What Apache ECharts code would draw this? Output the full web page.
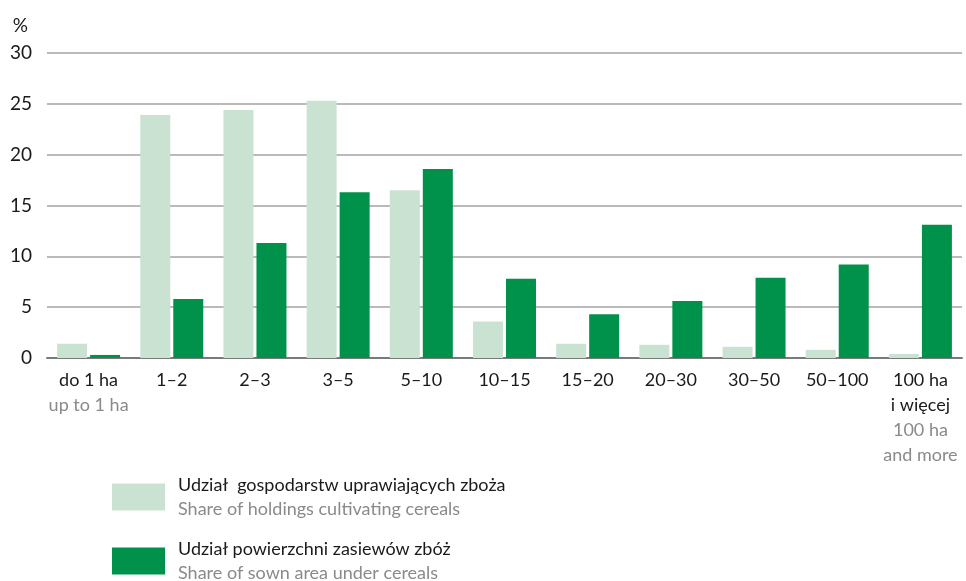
<!DOCTYPE html>
<html>
<head>
<meta charset="utf-8">
<script src="https://cdn.jsdelivr.net/npm/echarts@6/dist/echarts.min.js"></script>
<style>
  html, body { margin: 0; padding: 0; background: #fff; }
</style>
</head>
<body>
<div id="chart" style="width: 966px; height: 581px;"></div>
<script>
// kategorie (grupy obszarowe)
const categoriesPl = ['do 1 ha', '1–2', '2–3', '3–5', '5–10', '10–15', '15–20', '20–30', '30–50', '50–100', '100 ha\ni więcej'];
const categoriesEn = ['up to 1 ha', '', '', '', '', '', '', '', '', '', '100 ha\nand more'];

// udział gospodarstw uprawiających zboża
const holdingsShare = [1.4, 23.9, 24.4, 25.3, 16.5, 3.6, 1.4, 1.3, 1.1, 0.8, 0.4];
// udział powierzchni zasiewów zbóż
const areaShare = [0.3, 5.8, 11.3, 16.3, 18.6, 7.8, 4.3, 5.6, 7.9, 9.2, 13.1];

const seriesNamesPl = ['Udział  gospodarstw uprawiających zboża', 'Udział powierzchni zasiewów zbóż'];
const seriesNamesEn = ['Share of holdings cultivating cereals', 'Share of sown area under cereals'];

const FONT = 'Lato';

// jedna legenda na serię, żeby ułożyć je jedna pod drugą
function makeLegend(i, top) {
  return {
    left: 107,
    top: top,
    itemWidth: 53,
    itemHeight: 27,
    icon: 'rect',
    selectedMode: false,
    data: [seriesNamesPl[i]],
    formatter: function (name) {
      return '{pl|' + name + '}\n{en|' + seriesNamesEn[i] + '}';
    },
    textStyle: {
      padding: [0, 0, 0, 8],
      rich: {
        pl: { fontFamily: FONT, fontSize: 18, color: '#1a1a1a', lineHeight: 24 },
        en: { fontFamily: FONT, fontSize: 18, color: '#8a8a8a', lineHeight: 24 }
      }
    }
  };
}

const chart = echarts.init(document.getElementById('chart'));
chart.setOption({
  animation: false,
  grid: { left: 47, right: 4, top: 53, bottom: 223 },
  legend: [makeLegend(0, 471), makeLegend(1, 535)],
  xAxis: {
    type: 'category',
    data: categoriesPl,
    axisTick: { show: false },
    axisLine: { lineStyle: { color: '#7a7a7a', width: 2 } },
    axisLabel: {
      margin: 10,
      interval: 0,
      formatter: function (value, idx) {
        const pl = value.split('\n').map(s => '{pl|' + s + '}').join('\n');
        const en = categoriesEn[idx];
        if (!en) return pl;
        return pl + '\n' + en.split('\n').map(s => '{en|' + s + '}').join('\n');
      },
      rich: {
        pl: { fontFamily: FONT, fontSize: 18, color: '#1a1a1a', lineHeight: 25 },
        en: { fontFamily: FONT, fontSize: 18, color: '#8a8a8a', lineHeight: 25 }
      }
    }
  },
  yAxis: {
    type: 'value',
    min: 0,
    max: 30,
    interval: 5,
    name: '%',
    nameLocation: 'end',
    nameGap: 18,
    nameTextStyle: { fontFamily: FONT, fontSize: 19, color: '#1a1a1a', align: 'right', padding: [0, 19, 0, 0] },
    axisLine: { show: false },
    axisTick: { show: false },
    axisLabel: { fontFamily: FONT, fontSize: 19, color: '#1a1a1a', margin: 15 },
    splitLine: { lineStyle: { color: '#a3a3a3', width: 1.5 } }
  },
  series: [
    {
      name: seriesNamesPl[0],
      type: 'bar',
      data: holdingsShare,
      barWidth: 30,
      barGap: '10%',
      itemStyle: { color: '#c9e2d1' }
    },
    {
      name: seriesNamesPl[1],
      type: 'bar',
      data: areaShare,
      barWidth: 30,
      barGap: '10%',
      itemStyle: { color: '#00914a' }
    }
  ]
});
</script>
</body>
</html>
